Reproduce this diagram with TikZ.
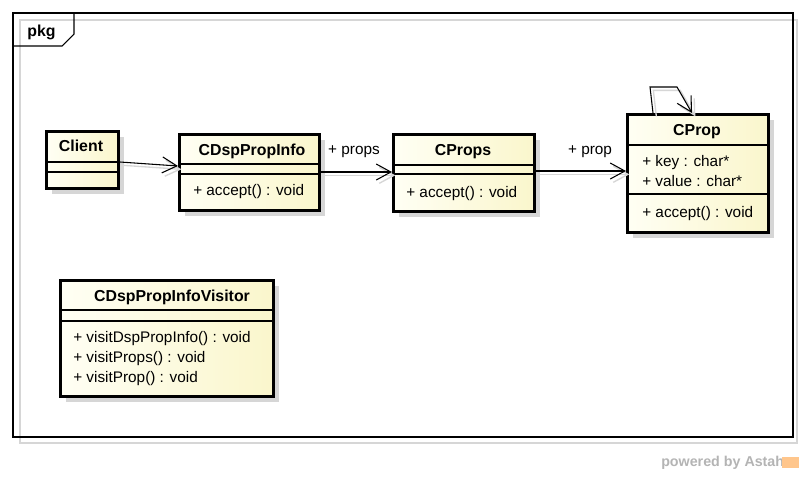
\documentclass[tikz,border=0pt]{standalone}
\usepackage{fontspec}
\setmainfont{Liberation Sans}
\usetikzlibrary{arrows.meta,shadows}
\definecolor{fillA}{RGB}{255,255,244}
\definecolor{fillB}{RGB}{250,246,204}
\definecolor{shadowc}{RGB}{214,214,214}
\definecolor{wmark}{RGB}{180,180,180}
\begin{document}
\begin{tikzpicture}[x=0.75pt,y=-0.75pt,
  cls/.style={draw=black,line width=2.2pt,anchor=north west,inner sep=0pt,
    left color=fillA,right color=fillB,
    drop shadow={shadow xshift=4.5pt,shadow yshift=-4.5pt,fill=shadowc,opacity=1}},
  sep/.style={draw=black,line width=1.1pt},
  title/.style={font=\fontsize{11.9}{13}\selectfont\bfseries,inner sep=0pt,text height=8.5pt,text depth=2.5pt},
  txt/.style={font=\fontsize{11.5}{13}\selectfont,anchor=west,inner sep=0pt,text height=8.5pt,text depth=2.5pt},
  assoc/.style={draw=black,line width=0.8pt,-{Straight Barb[length=11pt,width=12pt,line width=0.8pt]}},
  cshadow/.style={draw=shadowc,line width=1pt,-{Straight Barb[length=11pt,width=12pt,line width=1pt]},
    transform canvas={xshift=2.5pt,yshift=-2.5pt}}]
\fill[white] (0,0) rectangle (805,476);
\useasboundingbox (0,0) rectangle (805,476);
% package frame
\draw[shadowc,line width=0.8pt] (20,20) rectangle (797,443);
\draw[black,line width=0.8pt] (13,13) rectangle (793,437);
\draw[black,line width=0.8pt] (13,46) -- (62,46) -- (74,34) -- (74,13);
\node[title] (pkg) at (41.5,32) {pkg};
% classes
\node[cls,minimum width=72*0.75pt,minimum height=57*0.75pt] (client) at (45,130) {};
\node[cls,minimum width=140*0.75pt,minimum height=76*0.75pt] (cdsp) at (178,133) {};
\node[cls,minimum width=141*0.75pt,minimum height=77*0.75pt] (cprops) at (392,133) {};
\node[cls,minimum width=141*0.75pt,minimum height=118*0.75pt] (cprop) at (626,113) {};
\node[cls,minimum width=213*0.75pt,minimum height=116*0.75pt] (visitor) at (59,279) {};
% separators
\draw[sep] (client.west |- 0,162) -- (client.east |- 0,162);
\draw[sep] (client.west |- 0,172) -- (client.east |- 0,172);
\draw[sep] (cdsp.west |- 0,164) -- (cdsp.east |- 0,164);
\draw[sep] (cdsp.west |- 0,174) -- (cdsp.east |- 0,174);
\draw[sep] (cprops.west |- 0,165) -- (cprops.east |- 0,165);
\draw[sep] (cprops.west |- 0,174) -- (cprops.east |- 0,174);
\draw[sep] (cprop.west |- 0,145) -- (cprop.east |- 0,145);
\draw[sep] (cprop.west |- 0,194) -- (cprop.east |- 0,194);
\draw[sep] (visitor.west |- 0,310) -- (visitor.east |- 0,310);
\draw[sep] (visitor.west |- 0,321) -- (visitor.east |- 0,321);
% texts
\node[title] (tclient) at (81,147) {Client};
\node[title] (tcdsp) at (252,151) {CDspPropInfo};
\node[txt] (m1) at (193,191) {+ accept() : void};
\node[title] (tcprops) at (463,151) {CProps};
\node[txt] (m2) at (406,193) {+ accept() : void};
\node[title] (tcprop) at (697,131) {CProp};
\node[txt] (a1) at (642,162) {+ key : char*};
\node[txt] (a2) at (642,182) {+ value : char*};
\node[txt] (m3) at (642,213) {+ accept() : void};
\node[title] (tvis) at (172,297) {CDspPropInfoVisitor};
\node[txt] (v1) at (73,338) {+ visitDspPropInfo() : void};
\node[txt] (v2) at (73,358) {+ visitProps() : void};
\node[txt] (v3) at (73,378) {+ visitProp() : void};
% connectors (shadows first)
\draw[cshadow] (client.east |- 0,162) -- (cdsp.west |- 0,166);
\draw[cshadow] (cdsp.east |- 0,172) -- (cprops.west |- 0,172);
\draw[cshadow] (cprops.east |- 0,171) -- (cprop.west |- 0,171);
\draw[cshadow] (cprop.north -| 653,0) -- (650,87) -- (677,87) -- (cprop.north -| 692,0);
\draw[assoc] (client.east |- 0,162) -- (cdsp.west |- 0,166);
\draw[assoc] (cdsp.east |- 0,172) -- (cprops.west |- 0,172);
\draw[assoc] (cprops.east |- 0,171) -- (cprop.west |- 0,171);
\draw[assoc] (cprop.north -| 653,0) -- (650,87) -- (677,87) -- (cprop.north -| 692,0);
\node[txt,anchor=center] (lprops) at (354,150) {+ props};
\node[txt,anchor=center] (lprop) at (590,150) {+ prop};
% watermark
\node[font=\fontsize{10.7}{12}\selectfont\bfseries,text=wmark,anchor=west,inner sep=0pt] (wm) at (661,463) {powered by Astah};
\fill[orange!45] (782,457) rectangle (799,468);
\end{tikzpicture}
\end{document}
